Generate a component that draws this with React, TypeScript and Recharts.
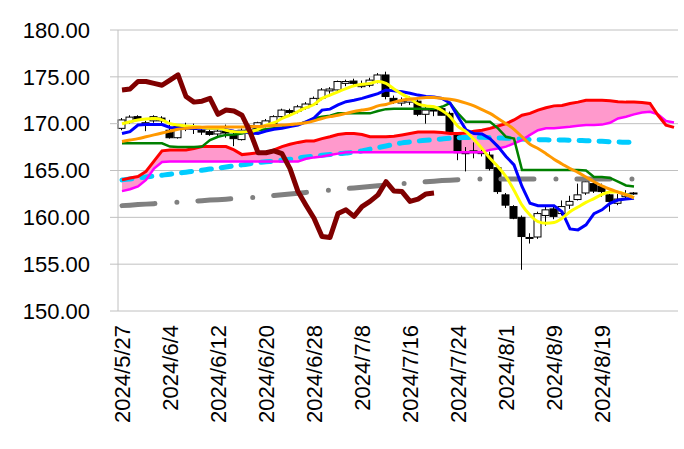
import {
  Area,
  Bar,
  CartesianGrid,
  ComposedChart,
  Line,
  XAxis,
  YAxis
} from "recharts";

// x axis: one slot per weekday starting 2024/5/27, label on every 6th slot
const tickIndex = [0, 6, 12, 18, 24, 30, 36, 42, 48, 54, 60];
const tickLabels = [
  "2024/5/27", "2024/6/4", "2024/6/12", "2024/6/20", "2024/6/28", "2024/7/8",
  "2024/7/16", "2024/7/24", "2024/8/1", "2024/8/9", "2024/8/19"
];
const yTicks = [150, 155, 160, 165, 170, 175, 180];
const slotCount = 70;

const open = [
  169.5, 170.2, 170.75, 170.0, 170.3, 170.6, 169.3, 168.5, 169.5, 169.6,
  169.3, 169.15, 168.9, 169.2, 168.8, 168.3, 169.3, 169.5, 169.8, 170.0,
  170.75, 171.4, 171.3, 171.7, 172.05, 172.7, 173.5, 173.6, 174.3, 174.55,
  173.95, 174.1, 174.5, 175.2, 172.7, 172.2, 172.3, 172.4, 171.0, 171.6,
  171.6, 171.1, 168.8, 166.8, 166.9, 167.0, 166.65, 165.3, 162.4, 161.15,
  160.0, 157.8, 157.9, 160.2, 160.9, 160.4, 161.3, 161.9, 162.6, 163.6,
  163.3, 162.4, 161.5, 162.2, 162.6
];
const high = [
  170.6, 170.9, 170.9, 170.3, 170.9, 170.8, 170.4, 169.8, 170.1, 170.0,
  169.6, 169.5, 169.4, 169.9, 169.2, 169.5, 169.9, 170.2, 170.5, 170.9,
  171.6, 171.6, 172.0, 172.3, 172.9, 173.8, 173.9, 174.6, 174.7, 174.8,
  174.6, 174.9, 175.4, 175.55, 173.0, 172.8, 172.9, 172.6, 171.9, 171.9,
  171.9, 171.3, 169.1, 167.5, 168.0, 167.3, 167.0, 165.5, 162.6, 161.3,
  160.2, 158.3, 160.6, 161.2, 161.2, 161.8, 162.3, 163.6, 164.2, 163.9,
  163.6, 162.5, 162.5, 162.9, 162.7
];
const low = [
  169.3, 170.0, 170.3, 169.2, 170.1, 170.0, 168.4, 168.4, 169.2, 168.9,
  168.8, 168.7, 168.6, 168.5, 167.6, 168.2, 169.0, 169.3, 169.6, 169.9,
  170.6, 171.0, 171.1, 171.5, 171.9, 172.5, 173.2, 173.4, 174.0, 174.1,
  173.8, 173.9, 174.3, 172.6, 172.1, 171.9, 172.0, 170.8, 170.0, 170.8,
  170.9, 169.0, 166.1, 164.9, 166.3, 166.5, 165.0, 162.5, 161.0, 159.8,
  154.4, 157.2, 157.7, 159.1, 159.8, 160.2, 160.9, 161.8, 162.4, 162.6,
  162.2, 160.6, 161.3, 162.0, 162.4
];
const close = [
  170.4, 170.7, 170.5, 170.1, 170.75, 170.3, 168.5, 169.7, 169.7, 169.4,
  169.1, 168.85, 169.2, 169.0, 168.4, 169.3, 169.8, 170.1, 170.3, 170.75,
  171.45, 171.2, 171.8, 172.1, 172.7, 173.6, 173.7, 174.5, 174.5, 174.3,
  174.1, 174.65, 175.2, 172.9, 172.3, 172.4, 172.7, 171.0, 171.45, 171.35,
  170.9, 169.15, 166.9, 166.9, 167.1, 166.8, 165.2, 162.75, 161.3, 159.9,
  157.95, 157.85, 160.4, 160.8, 160.1, 161.15, 161.7, 162.4, 163.8, 162.8,
  162.75, 161.7, 161.95, 162.5, 162.6
];

const ma5 = [
  170.0, 170.2, 170.4, 170.5, 170.55, 170.4, 170.0, 169.85, 169.75, 169.7,
  169.6, 169.5, 169.5, 169.3, 169.15, 169.1, 169.15, 169.4, 169.85, 170.1,
  170.55, 170.9, 171.3, 171.7, 172.05, 172.7, 173.05, 173.4, 173.75, 174.05,
  174.2, 174.3, 174.5, 174.3, 173.7, 173.15, 172.7, 172.1, 171.9, 171.8,
  171.4, 170.75, 169.7, 169.15, 168.3, 167.35, 166.3, 165.4, 164.35, 162.9,
  161.3, 160.25, 159.55, 159.37, 159.45, 159.9, 160.6, 161.1, 161.6, 162.0,
  162.45, 162.7, 162.7, 162.45, 162.1
];
const tenkan = [
  168.95, 169.15, 169.85, 169.9, 169.9, 169.9, 169.6, 169.55, 169.5, 169.5,
  169.5, 169.5, 169.5, 169.35, 169.2, 169.15, 169.0, 168.95, 169.2, 169.4,
  169.5, 169.7, 169.85, 170.2, 170.6, 171.45, 171.55, 172.0, 172.35, 172.5,
  172.7, 172.95, 173.2, 173.6, 173.5, 173.4, 173.25, 173.05, 172.9, 172.85,
  172.7, 172.2, 170.75, 169.35, 168.95, 168.9, 168.4, 167.55, 166.5, 165.6,
  163.3, 161.5, 161.25, 161.25, 161.25, 160.6, 158.76, 158.66, 159.2, 160.4,
  160.8, 161.5, 161.85, 161.96, 162.03
];
const kijun = [
  167.9, 167.9, 167.9, 167.9, 167.9, 167.9, 167.55, 167.5, 167.5, 167.5,
  167.55, 168.25, 168.6, 168.8, 168.85, 168.95, 169.15, 169.3, 169.4, 169.5,
  169.6, 169.75, 169.9, 170.2, 170.55, 170.75, 170.85, 171.1, 171.1, 171.1,
  171.1, 171.1, 171.35, 171.55, 171.6, 171.6, 171.6, 171.6, 171.6, 171.6,
  171.8, 172.2, 171.1, 170.2, 170.2, 170.2, 170.2, 169.5, 168.6, 168.4,
  165.05, 165.05, 165.05, 165.05, 165.05, 165.05, 165.05, 165.05, 165.0, 164.3,
  164.3, 164.2, 163.8, 163.4, 163.3
];
const ma25 = [
  168.1, 168.25, 168.4, 168.6, 168.8, 169.0, 169.2, 169.4, 169.5, 169.6,
  169.62, 169.64, 169.65, 169.65, 169.65, 169.65, 169.68, 169.7, 169.75, 169.8,
  169.85, 169.9, 170.0, 170.1, 170.3, 170.55, 170.75, 170.9, 171.1, 171.3,
  171.45, 171.6, 171.9, 172.05, 172.3, 172.5, 172.6, 172.7, 172.8, 172.8,
  172.7, 172.6, 172.45, 172.2, 171.9, 171.5, 171.1, 170.55, 170.0, 169.4,
  168.6, 167.8, 167.35, 166.8, 166.2, 165.7, 165.2, 164.8, 164.3, 163.8,
  163.35, 163.0, 162.7, 162.4, 162.1
];
const ma75 = [
  164.0, 164.1, 164.2, 164.3, 164.4, 164.5, 164.6, 164.72, 164.82, 164.92,
  165.03, 165.15, 165.25, 165.37, 165.5, 165.6, 165.72, 165.85, 165.93, 166.0,
  166.1, 166.2, 166.33, 166.45, 166.53, 166.62, 166.7, 166.78, 166.87, 166.95,
  167.1, 167.28, 167.45, 167.62, 167.8, 167.95, 168.05, 168.15, 168.22, 168.3,
  168.37, 168.44, 168.5, 168.52, 168.54, 168.55, 168.52, 168.48, 168.45, 168.4,
  168.35, 168.3, 168.28, 168.27, 168.26, 168.25, 168.23, 168.2, 168.18, 168.15,
  168.11, 168.07, 168.04, 168.02, 168.0
];
const ma200 = [
  161.25, 161.3, 161.36, 161.41, 161.46, 161.52, 161.57, 161.62, 161.68, 161.73,
  161.78, 161.84, 161.89, 161.94, 162.0, 162.05, 162.1, 162.18, 162.26, 162.34,
  162.42, 162.5, 162.58, 162.66, 162.74, 162.82, 162.9, 162.98, 163.06, 163.14,
  163.22, 163.3, 163.37, 163.43, 163.5, 163.58, 163.66, 163.74, 163.8, 163.86,
  163.92, 163.97, 164.02, 164.06, 164.08, 164.1, 164.1, 164.1, 164.1, 164.1,
  164.1, 164.1, 164.1, 164.1, 164.1, 164.1, 164.1, 164.1, 164.1, 164.1,
  164.1, 164.1, 164.1, 164.1, 164.1
];
const spanA = [
  164.0, 164.2, 164.35, 164.9, 166.0, 167.1, 167.2, 167.2, 167.2, 167.35,
  167.55, 167.55, 167.55, 167.55, 167.2, 166.7, 166.8, 166.9, 166.9, 167.2,
  167.55, 167.8, 168.0, 168.15, 168.15, 168.4, 168.6, 168.85, 168.95, 168.95,
  168.85, 168.6, 168.6, 168.6, 168.65, 168.8, 168.95, 169.1, 169.1, 169.1,
  169.05, 168.95, 168.95, 169.0, 169.2, 169.3, 169.5, 169.75, 170.0, 170.4,
  170.9, 171.1, 171.45, 171.7, 171.9, 171.95, 172.15, 172.3, 172.5, 172.5,
  172.5, 172.45, 172.35, 172.3, 172.3, 172.27, 172.16, 170.9, 169.85, 169.6
];
const spanB = [
  162.8, 163.0, 163.3, 164.0, 165.2, 165.9, 165.95, 165.95, 165.95, 165.95,
  165.95, 165.95, 165.95, 165.95, 165.95, 165.95, 165.95, 165.95, 165.95, 165.95,
  165.95, 165.95, 165.95, 166.25, 166.4, 166.5, 166.65, 166.8, 166.95, 166.95,
  166.95, 166.95, 166.95, 166.95, 166.95, 166.95, 166.95, 166.95, 166.95, 166.95,
  166.95, 166.95, 166.95, 166.95, 166.95, 166.95, 167.2, 167.35, 167.55, 167.9,
  168.25, 168.8, 169.3, 169.5, 169.5, 169.6, 169.67, 169.78, 169.85, 169.85,
  169.9, 170.1, 170.56, 170.74, 170.99, 171.2, 171.27, 170.99, 170.28, 170.13
];
const chikou = [
  173.6, 173.7, 174.5, 174.5, 174.3, 174.1, 174.65, 175.2, 172.9, 172.3,
  172.4, 172.7, 171.0, 171.45, 171.35, 170.9, 169.15, 166.9, 166.9, 167.1,
  166.8, 165.2, 162.75, 161.3, 159.9, 157.95, 157.85, 160.4, 160.8, 160.1,
  161.15, 161.7, 162.4, 163.8, 162.8, 162.75, 161.7, 161.95, 162.5, 162.6
];

const rows = Array.from({ length: slotCount }, (_, i) => ({
  i,
  candle: i < close.length ? [low[i], high[i]] : undefined,
  open: open[i],
  high: high[i],
  low: low[i],
  close: close[i],
  ma5: ma5[i],
  tenkan: tenkan[i],
  kijun: kijun[i],
  ma25: ma25[i],
  ma75: ma75[i],
  ma200: ma200[i],
  spanA: spanA[i],
  spanB: spanB[i],
  cloud: spanA[i] >= spanB[i] ? [spanB[i], spanA[i]] : [spanA[i], spanA[i]],
  chikou: chikou[i]
}));

const FONT = "'Liberation Sans', Arial, sans-serif";

function Candle(props: any) {
  const { x, y, width, height, payload } = props;
  if (!payload || payload.open == null || height == null) return <g />;
  const top = Math.min(y, y + height);
  const span = Math.abs(height);
  const { open: o, high: h, low: l, close: c } = payload;
  const toY = (v: number) => top + ((h - v) / (h - l)) * span;
  const cx = x + width / 2;
  const bodyTop = toY(Math.max(o, c));
  const bodyBottom = toY(Math.min(o, c));
  return (
    <g>
      <line x1={cx} x2={cx} y1={top} y2={top + span} stroke="#000" strokeWidth={1} />
      <rect
        x={x}
        y={bodyTop}
        width={width}
        height={Math.max(bodyBottom - bodyTop, 1)}
        fill={c >= o ? "#fff" : "#000"}
        stroke="#000"
        strokeWidth={1}
      />
    </g>
  );
}

function DateTick({ x, y, payload }: any) {
  const label = tickLabels[tickIndex.indexOf(payload.value)];
  return (
    <text
      x={x}
      y={y}
      transform={`rotate(-90, ${x}, ${y})`}
      textAnchor="end"
      dominantBaseline="central"
      fontSize={22}
      fontFamily={FONT}
      fill="#000"
    >
      {label}
    </text>
  );
}

export default function App() {
  return (
    <div style={{ position: "absolute", left: 0, top: 0, width: 684, height: 449, background: "#fff" }}>
      <ComposedChart width={684} height={449} data={rows} margin={{ top: 30, right: 6, bottom: 0, left: 0 }}>
        <CartesianGrid vertical={false} stroke="#c0c0c0" />
        <XAxis
          dataKey="i"
          type="number"
          domain={[-0.5, slotCount - 0.5]}
          ticks={tickIndex}
          interval={0}
          height={138}
          axisLine={false}
          tickLine={false}
          tickSize={0}
          tickMargin={14}
          tick={<DateTick />}
        />
        <YAxis
          domain={[150, 180]}
          ticks={yTicks}
          width={118}
          tickSize={8}
          tickMargin={20}
          axisLine={{ stroke: "#c0c0c0" }}
          tickLine={{ stroke: "#c0c0c0" }}
          tick={{ fill: "#000", fontSize: 22, fontFamily: FONT }}
          tickFormatter={(v: number) => v.toFixed(2)}
        />
        <Area
          dataKey="cloud"
          type="linear"
          fill="#ff99cc"
          fillOpacity={1}
          stroke="none"
          activeDot={false}
          isAnimationActive={false}
        />
        <Bar dataKey="candle" barSize={7} shape={<Candle />} isAnimationActive={false} />
        <Line dataKey="ma200" type="linear" stroke="#808080" strokeWidth={5} strokeDasharray="33 22 0 21" strokeLinecap="round" dot={false} activeDot={false} isAnimationActive={false} />
        <Line dataKey="ma75" type="monotone" stroke="#00ccff" strokeWidth={5} strokeDasharray="10 10" strokeLinecap="round" dot={false} activeDot={false} isAnimationActive={false} />
        <Line dataKey="spanB" type="linear" stroke="#ff00ff" strokeWidth={2.5} dot={false} activeDot={false} isAnimationActive={false} />
        <Line dataKey="spanA" type="linear" stroke="#ff0000" strokeWidth={3} dot={false} activeDot={false} isAnimationActive={false} />
        <Line dataKey="kijun" type="linear" stroke="#008000" strokeWidth={2.5} dot={false} activeDot={false} isAnimationActive={false} />
        <Line dataKey="tenkan" type="linear" stroke="#0000ff" strokeWidth={3} dot={false} activeDot={false} isAnimationActive={false} />
        <Line dataKey="ma5" type="monotone" stroke="#ffff00" strokeWidth={3} dot={false} activeDot={false} isAnimationActive={false} />
        <Line dataKey="ma25" type="monotone" stroke="#ff9900" strokeWidth={3} dot={false} activeDot={false} isAnimationActive={false} />
        <Line dataKey="chikou" type="linear" stroke="#800000" strokeWidth={5} strokeLinejoin="round" dot={false} activeDot={false} isAnimationActive={false} />
      </ComposedChart>
    </div>
  );
}
